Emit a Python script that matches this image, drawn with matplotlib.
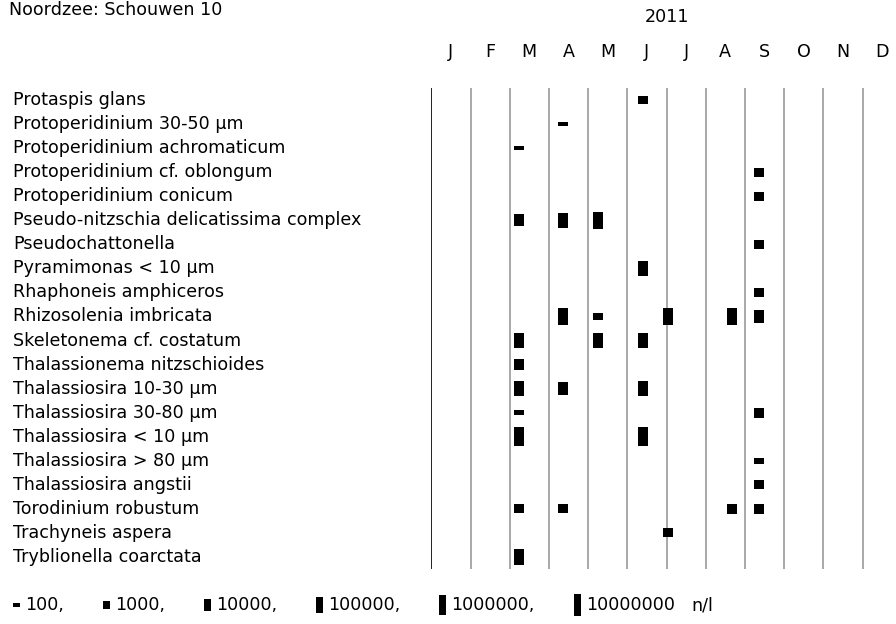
import matplotlib
matplotlib.use("Agg")
import matplotlib.pyplot as plt
import matplotlib.transforms as mtransforms
from matplotlib.patches import Rectangle
import numpy as np
import calendar
import datetime as dt

plt.rcParams['font.family'] = ['DejaVu Sans']

# ---------------- data ----------------
title = "Noordzee: Schouwen 10"
year = 2011
month_labels = ["J", "F", "M", "A", "M", "J", "J", "A", "S", "O", "N", "D"]

species = [
    "Protaspis glans",
    "Protoperidinium 30-50 µm",
    "Protoperidinium achromaticum",
    "Protoperidinium cf. oblongum",
    "Protoperidinium conicum",
    "Pseudo-nitzschia delicatissima complex",
    "Pseudochattonella",
    "Pyramimonas < 10 µm",
    "Rhaphoneis amphiceros",
    "Rhizosolenia imbricata",
    "Skeletonema cf. costatum",
    "Thalassionema nitzschioides",
    "Thalassiosira 10-30 µm",
    "Thalassiosira 30-80 µm",
    "Thalassiosira < 10 µm",
    "Thalassiosira > 80 µm",
    "Thalassiosira angstii",
    "Torodinium robustum",
    "Trachyneis aspera",
    "Tryblionella coarctata",
]

# observations: (species index, sampling date, concentration n/l)
obs_species = [0, 1, 2, 3, 4,
               5, 5, 5,
               6, 7, 8,
               9, 9, 9, 9, 9,
               10, 10, 10,
               11,
               12, 12, 12,
               13, 13,
               14, 14,
               15, 16,
               17, 17, 17, 17,
               18, 19]
obs_dates = ["2011-06-13", "2011-04-12", "2011-03-08", "2011-09-12", "2011-09-12",
             "2011-03-08", "2011-04-12", "2011-05-09",
             "2011-09-12", "2011-06-13", "2011-09-12",
             "2011-04-12", "2011-05-09", "2011-07-02", "2011-08-22", "2011-09-12",
             "2011-03-08", "2011-05-09", "2011-06-13",
             "2011-03-08",
             "2011-03-08", "2011-04-12", "2011-06-13",
             "2011-03-08", "2011-09-12",
             "2011-03-08", "2011-06-13",
             "2011-09-12", "2011-09-12",
             "2011-03-08", "2011-04-12", "2011-08-22", "2011-09-12",
             "2011-07-02", "2011-03-08"]
obs_values = [800, 100, 100, 860, 860,
              4600, 21500, 60000,
              860, 31000, 860,
              51000, 360, 86000, 51000, 6600,
              15000, 21500, 21500,
              2800,
              18500, 6600, 31000,
              100, 1440,
              144000, 144000,
              200, 860,
              1000, 1000, 1440, 1440,
              1000, 31000]

legend_values = [100, 1000, 10000, 100000, 1000000, 10000000]
legend_unit = "n/l"

# ---------------- layout ----------------
W, H = 896, 624
DPI = 100
fig = plt.figure(figsize=(W / DPI, H / DPI), dpi=DPI)

x0_px = 431.3        # left edge of January
month_px = 39.2      # width of one month
top_px, bot_px = 88.0, 569.0
n = len(species)
row_px = (bot_px - top_px) / n
xmax = (W - x0_px) / month_px

ax = fig.add_axes([x0_px / W, 1 - bot_px / H, (W - x0_px) / W, (bot_px - top_px) / H])
ax.set_xlim(0, xmax)
ax.set_ylim(n - 0.5, -0.5)
ax.axis("off")

# month separators
for k in range(12):
    if k == 0:
        ax.axvline(k, color="#111111", lw=1.3, zorder=1)
    else:
        ax.axvline(k, color="#9a9a9a", lw=1.2, zorder=1)


def month_pos(s):
    d = dt.date.fromisoformat(s)
    nd = calendar.monthrange(d.year, d.month)[1]
    return d.month - 1 + (d.day - 1) / nd


def bar_px(v):
    return 4.5 * (np.log10(v) - 1.0)


bw = 10.0 / month_px
for si, ds, v in zip(obs_species, obs_dates, obs_values):
    h = bar_px(v) / row_px
    ax.bar(month_pos(ds), h, width=bw, bottom=si - h / 2, color="black",
           linewidth=0, zorder=3)

fs = 12.6
# species labels
lab_tr = mtransforms.blended_transform_factory(fig.transFigure, ax.transData)
for i, s in enumerate(species):
    ax.text(13 / W, i, s, transform=lab_tr, ha="left", va="center",
            fontsize=fs, color="black")

# month labels & year
mon_tr = mtransforms.blended_transform_factory(ax.transData, fig.transFigure)
for k, m in enumerate(month_labels):
    ax.text(k + 0.5, 1 - 52 / H, m, transform=mon_tr, ha="center", va="center",
            fontsize=fs, color="black", clip_on=False)
ax.text(6, 1 - 17 / H, str(year), transform=mon_tr, ha="center", va="center",
        fontsize=fs, color="black", clip_on=False)

fig.text(9 / W, 1 - 15 / H, title, ha="left", va="baseline", fontsize=fs)

# legend (in pixel coordinates)
lax = fig.add_axes([0, 0, 1, 1], zorder=-1)
lax.set_xlim(0, W)
lax.set_ylim(H, 0)
lax.axis("off")
renderer = fig.canvas.get_renderer()
x = 13.0
yc = 605.0
for i, v in enumerate(legend_values):
    h = 0.85 * bar_px(v)
    lax.add_patch(Rectangle((x, yc - h / 2), 7, h, color="black", lw=0))
    label = f"{v:d}" + ("," if i < len(legend_values) - 1 else "")
    t = lax.text(x + 12, yc, label, ha="left", va="center", fontsize=fs)
    bb = t.get_window_extent(renderer=renderer)
    x = x + 12 + bb.width + 39
lax.text(x - 22, yc, legend_unit, ha="left", va="center", fontsize=fs)

fig.savefig("out.png", dpi=DPI)
